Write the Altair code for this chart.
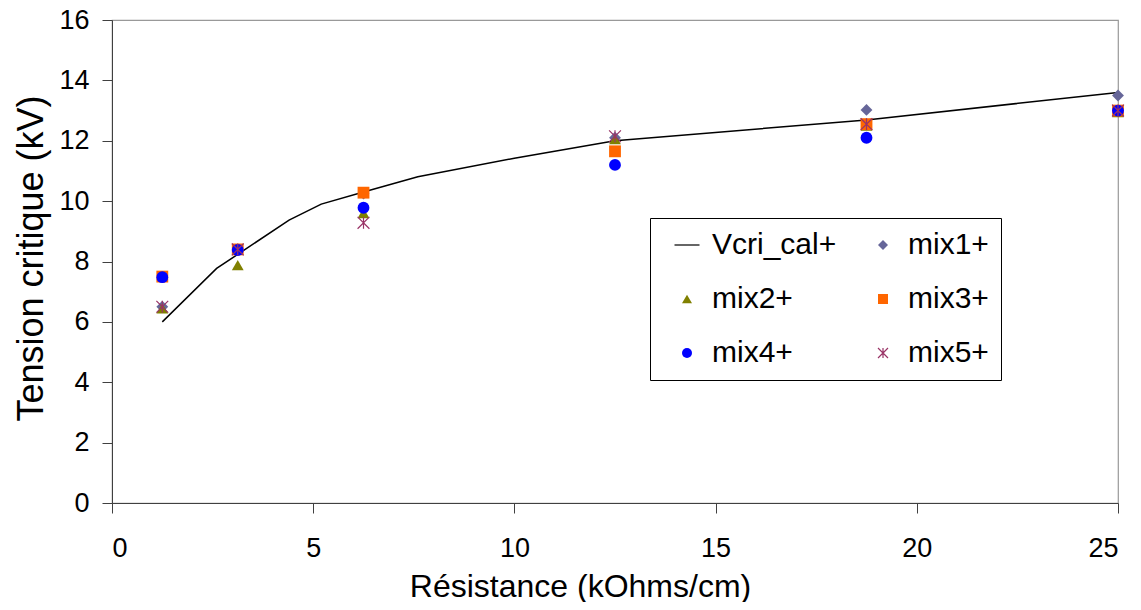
import altair as alt
import pandas as pd

# Resistance values (kOhms/cm)
resistance = [1.25, 3.125, 6.25, 12.5, 18.75, 25]
mix1 = [6.5, 8.4, 10.25, 12.1, 13.02, 13.5]
mix2 = [6.45, 7.88, 9.6, 12.05, 12.5, 12.95]
mix3 = [7.5, 8.4, 10.28, 11.65, 12.55, 13.0]
mix4 = [7.48, 8.38, 9.78, 11.2, 12.1, 13.0]
mix5 = [6.5, 8.4, 9.28, 12.15, 12.55, 13.0]

# Calculated curve Vcri_cal+
calc_x = [1.25, 2.6, 4.4, 5.2, 6.25, 7.6, 10, 12.5, 18.75, 25]
calc_y = [6.0, 7.77, 9.37, 9.9, 10.3, 10.81, 11.42, 12.0, 12.69, 13.6]

# legend order (column-major fill gives rows: Vcri/mix1, mix2/mix3, mix4/mix5)
series = ["Vcri_cal+", "mix2+", "mix4+", "mix1+", "mix3+", "mix5+"]
fills = ["transparent", "#808000", "#0000FF", "#666699", "#FF6600", "transparent"]
strokes = ["#000000", "transparent", "transparent", "transparent", "transparent", "#993366"]
shapes = ["M-2.5,0L2.5,0", "triangle-up", "circle", "diamond", "square",
          "M-1,-1L1,1M-1,1L1,-1M0,-1L0,1"]

mix_names = ["mix1+", "mix2+", "mix3+", "mix4+", "mix5+"]
rows = []
for name, vals in zip(mix_names, [mix1, mix2, mix3, mix4, mix5]):
    for xv, yv in zip(resistance, vals):
        rows.append({"x": xv, "y": yv, "serie": name})
pts = pd.DataFrame(rows)
line_df = pd.DataFrame({"x": calc_x, "y": calc_y, "serie": "Vcri_cal+"})

FONT = "Liberation Sans"

xenc = alt.X("x:Q", scale=alt.Scale(domain=[0, 25], nice=False),
             axis=alt.Axis(values=[0, 5, 10, 15, 20, 25], title="Résistance (kOhms/cm)",
                           grid=False, tickSize=10, labelPadding=22, labelFontSize=27,
                           titleFontSize=32, titleFontWeight="normal",
                           titleX=468, titleY=93, titleBaseline="alphabetic",
                           domainColor="#404040", tickColor="#404040",
                           labelColor="#000000", titleColor="#000000"))
yenc = alt.Y("y:Q", scale=alt.Scale(domain=[0, 16], nice=False),
             axis=alt.Axis(values=list(range(0, 17, 2)), title="Tension critique (kV)",
                           grid=False, tickSize=10, labelPadding=13, labelFontSize=27,
                           titleFontSize=36, titleFontWeight="normal",
                           titleX=-70, titleY=238, titleBaseline="alphabetic",
                           titleAngle=270,
                           domainColor="#404040", tickColor="#404040",
                           labelColor="#000000", titleColor="#000000"))

legend = alt.Legend(title=None, orient="none", legendX=538, legendY=198, columns=2,
                    strokeColor="#000000", padding=12, symbolOffset=10,
                    labelOffset=10, rowPadding=24, columnPadding=21,
                    labelFontSize=30, labelFont=FONT, labelColor="#000000",
                    symbolStrokeWidth=1.2, fillColor="#ffffff")

fill_scale = alt.Scale(domain=series, range=fills)
stroke_scale = alt.Scale(domain=series, range=strokes)
shape_scale = alt.Scale(domain=series, range=shapes)

line = alt.Chart(line_df).mark_line(strokeWidth=1.5).encode(
    x=xenc, y=yenc,
    stroke=alt.Stroke("serie:N", scale=stroke_scale, legend=legend),
)

points = alt.Chart(pts).mark_point(filled=True, opacity=1, size=140, strokeWidth=1.2).encode(
    x=xenc, y=yenc,
    fill=alt.Fill("serie:N", scale=fill_scale, legend=legend),
    stroke=alt.Stroke("serie:N", scale=stroke_scale, legend=legend),
    shape=alt.Shape("serie:N", scale=shape_scale, legend=legend),
    order=alt.Order("serie:N"),
)

chart = alt.layer(line, points).properties(
    width=1006, height=483,
    autosize=alt.AutoSizeParams(type="none"),
    padding={"left": 104, "top": 12, "right": 15, "bottom": 99},
).configure(font=FONT).configure_view(stroke="#999999", strokeWidth=1.2)

chart.save("out.html", embed_options={"renderer": "svg", "actions": False})
